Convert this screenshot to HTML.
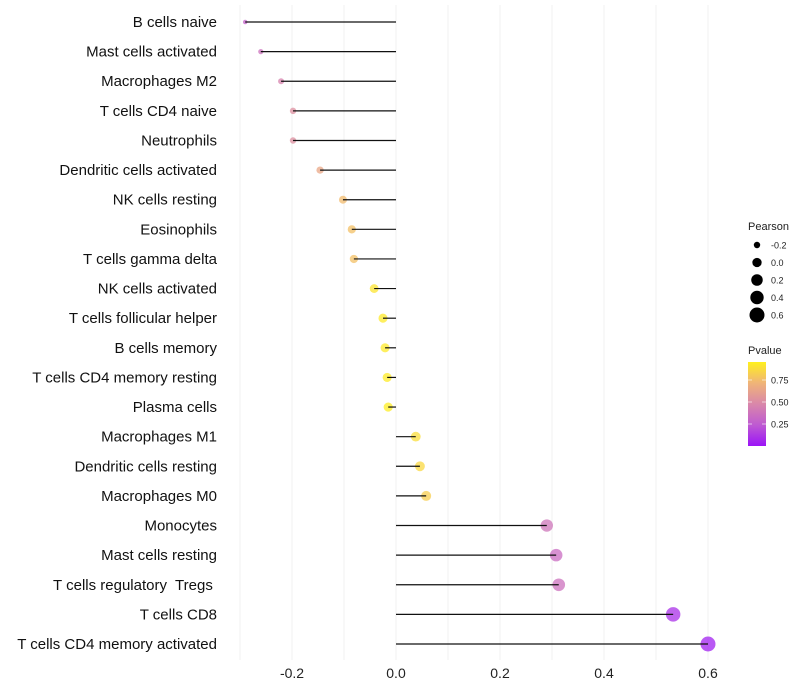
<!DOCTYPE html>
<html><head><meta charset="utf-8"><style>
html,body{margin:0;padding:0;background:#fff;}
svg{display:block;font-family:"Liberation Sans",sans-serif;}
text{white-space:pre;}
</style></head><body>
<svg id="chart" width="800" height="700"></svg>
<script>
const categories=["B cells naive","Mast cells activated","Macrophages M2","T cells CD4 naive","Neutrophils","Dendritic cells activated","NK cells resting","Eosinophils","T cells gamma delta","NK cells activated","T cells follicular helper","B cells memory","T cells CD4 memory resting","Plasma cells","Macrophages M1","Dendritic cells resting","Macrophages M0","Monocytes","Mast cells resting","T cells regulatory  Tregs ","T cells CD8","T cells CD4 memory activated"];
const pearson=[-0.29,-0.26,-0.221,-0.198,-0.198,-0.146,-0.102,-0.085,-0.081,-0.042,-0.025,-0.021,-0.017,-0.015,0.038,0.046,0.058,0.29,0.308,0.313,0.533,0.6];
const pvalue=[0.3,0.38,0.48,0.55,0.55,0.68,0.78,0.8,0.8,0.95,0.97,0.97,0.98,0.99,0.92,0.9,0.86,0.4,0.35,0.38,0.1,0.05];
const xTicks=[-0.2,0,0.2,0.4,0.6];
const xTickLabels=["-0.2","0.0","0.2","0.4","0.6"];
const sizeLegend=[-0.2,0,0.2,0.4,0.6];
const sizeLegendLabels=["-0.2","0.0","0.2","0.4","0.6"];
const pLegendTicks=[0.75,0.5,0.25];
const pLegendLabels=["0.75","0.50","0.25"];

const NS="http://www.w3.org/2000/svg";
const svg=document.getElementById('chart');
function x(v){return 396+v*520;}
function y(i){return 22+i*(622/21);}
function r(v){return Math.sqrt(Math.max(1.5,21.75+57.5*v));}
const stops=[[0,[155,20,247]],[0.25,[190,90,210]],[0.5,[217,135,170]],[0.75,[240,180,120]],[1,[255,240,30]]];
function col(p){for(let k=1;k<stops.length;k++){if(p<=stops[k][0]){const a=stops[k-1],b=stops[k];const t=(p-a[0])/(b[0]-a[0]);const c=a[1].map((q,j)=>Math.round(q+(b[1][j]-q)*t));return `rgb(${c})`;}}return 'rgb(255,240,30)';}
function mk(tag,attrs,parent){const e=document.createElementNS(NS,tag);for(const k in attrs)e.setAttribute(k,attrs[k]);(parent||svg).appendChild(e);return e;}

const grid=mk('g',{});


for(let v=-0.3;v<=0.61;v+=0.1){mk('line',{x1:x(v),x2:x(v),y1:5,y2:660,stroke:'#f0f0f0','stroke-width':1},grid);}
xTicks.forEach((v,i)=>{const t=mk('text',{x:x(v),y:678,'text-anchor':'middle','font-size':14,fill:'#222'});t.textContent=xTickLabels[i];

});
categories.forEach((c,i)=>{
 const t=mk('text',{x:217,y:y(i)+5,'text-anchor':'end','font-size':15,fill:'#111'});t.textContent=c;
 
 
 const p=mk('circle',{cx:x(pearson[i]),cy:y(i),r:r(pearson[i]),fill:col(pvalue[i]),'fill-opacity':0.75});
 
 
 const l=mk('line',{x1:x(0),x2:x(pearson[i]),y1:y(i),y2:y(i),stroke:'#111','stroke-width':1.2});
 
 
});
const tl=mk('text',{x:748,y:230,'font-size':11,fill:'#222'});tl.textContent='Pearson';


sizeLegend.forEach((v,i)=>{const cy=245+i*17.5;
 const c=mk('circle',{cx:757,cy:cy,r:r(v),fill:'#000'});
 
 
 const t=mk('text',{x:771,y:cy+3.5,'font-size':9,fill:'#222'});t.textContent=sizeLegendLabels[i];
 
 });
const pt=mk('text',{x:748,y:354,'font-size':11,fill:'#222'});pt.textContent='Pvalue';


const defs=mk('defs',{});const lg=mk('linearGradient',{id:'pg',x1:0,y1:1,x2:0,y2:0},defs);
stops.forEach(s=>mk('stop',{offset:s[0],'stop-color':`rgb(${s[1]})`},lg));
const cb=mk('rect',{x:748,y:362,width:18,height:84,fill:'url(#pg)'});


pLegendTicks.forEach((v,i)=>{const yy=446-v*88;
 mk('line',{x1:748,x2:752,y1:yy,y2:yy,stroke:'#fff','stroke-opacity':0.6});
 mk('line',{x1:762,x2:766,y1:yy,y2:yy,stroke:'#fff','stroke-opacity':0.6});
 const t=mk('text',{x:771,y:yy+3.5,'font-size':9,fill:'#222'});t.textContent=pLegendLabels[i];
 
 });
</script>
</body></html>
